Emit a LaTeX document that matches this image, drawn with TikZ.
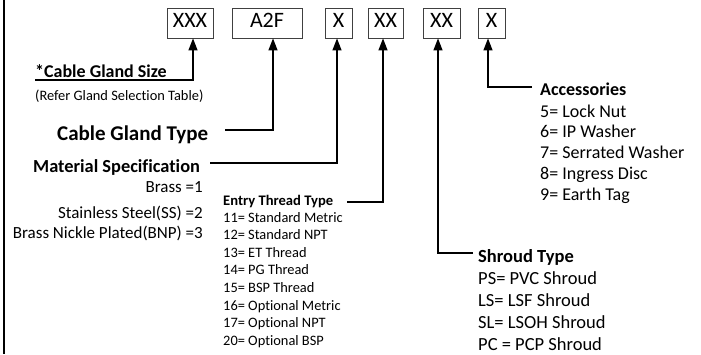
\documentclass[tikz,border=0pt]{standalone}
\usepackage{fontspec}
\setmainfont{Carlito}[Ligatures={NoCommon},RawFeature={-liga;-clig;-dlig}]
\usetikzlibrary{arrows.meta}
\begin{document}
\begin{tikzpicture}[x=1pt,y=-1pt,
  codebox/.style={draw=black!75,line width=0.8pt,inner sep=0pt,minimum height=30pt,
    text height=14.5pt,text depth=5pt,font=\fontsize{22}{24}\selectfont},
  conn/.style={line width=1.2pt,-{Triangle[width=9pt,length=12pt]}},
  lbl/.style={anchor=base west,inner sep=0pt},
  lblr/.style={anchor=base east,inner sep=0pt},
  hdr/.style={font=\bfseries\fontsize{#1}{#1}\selectfont},
  txt/.style={font=\fontsize{#1}{#1}\selectfont}
]
\useasboundingbox (0,0) rectangle (701,354);
\draw[line width=2.2pt] (4,0) -- (4,354);

% code boxes
\node[codebox,minimum width=46pt] (b1) at (190,23) {XXX};
\node[codebox,minimum width=70pt] (b2) at (267,23) {A2F};
\node[codebox,minimum width=27pt] (b3) at (338.5,23) {X};
\node[codebox,minimum width=35pt] (b4) at (385.5,23) {XX};
\node[codebox,minimum width=37pt] (b5) at (441.5,23) {XX};
\node[codebox,minimum width=27pt] (b6) at (491.5,23) {X};

% labels
\node[lbl,hdr=18] (size) at (35,77) {*Cable Gland Size};
\node[lbl,txt=14.4] (refer) at (35,100) {(Refer Gland Selection Table)};
\node[lbl,hdr=21] (type) at (57,140) {Cable Gland Type};
\node[lbl,hdr=18.4] (mat) at (33,172) {Material Specification};
\node[lblr,txt=17] (m1) at (203,192) {Brass =1};
\node[lblr,txt=17] (m2) at (203,218) {Stainless Steel(SS) =2};
\node[lblr,txt=17] (m3) at (203,238) {Brass Nickle Plated(BNP) =3};

\node[lbl,hdr=14.6] (entry) at (223,205) {Entry Thread Type};
\foreach \t [count=\i from 0] in {11= Standard Metric,12= Standard NPT,13= ET Thread,14= PG Thread,15= BSP Thread,16= Optional Metric,17= Optional NPT,20= Optional BSP}
  \node[lbl,txt=14.4] (e\i) at (223,222+17.6*\i) {\t};

\node[lbl,hdr=18.5] (shroud) at (478,262) {Shroud Type};
\foreach \t [count=\i from 0] in {PS= PVC Shroud,LS= LSF Shroud,SL= LSOH Shroud,PC = PCP Shroud}
  \node[lbl,txt=18.5] (s\i) at (478,284+22.1*\i) {\t};

\node[lbl,hdr=18] (acc) at (540,95) {Accessories};
\foreach \t [count=\i from 0] in {5= Lock Nut,6= IP Washer,7= Serrated Washer,8= Ingress Disc,9= Earth Tag}
  \node[lbl,txt=18] (a\i) at (540,117+20.75*\i) {\t};

% connector ends
\coordinate (cs) at (35,80);
\coordinate (ct) at (225,130);
\coordinate (cm) at (210,163);
\coordinate (ce) at (347,202);
\coordinate (csh) at (473,253);
\coordinate (ca) at (532,87);

\draw[conn] (cs) -| ([xshift=3pt]b1.south);
\draw[conn] (ct) -| ([xshift=6pt]b2.south);
\draw[conn] (cm) -| ([xshift=-1.5pt]b3.south);
\draw[conn] (ce) -| ([xshift=-2.5pt]b4.south);
\draw[conn] (csh) -| ([xshift=-3.5pt]b5.south);
\draw[conn] (ca) -| ([xshift=-3.5pt]b6.south);
\end{tikzpicture}
\end{document}
